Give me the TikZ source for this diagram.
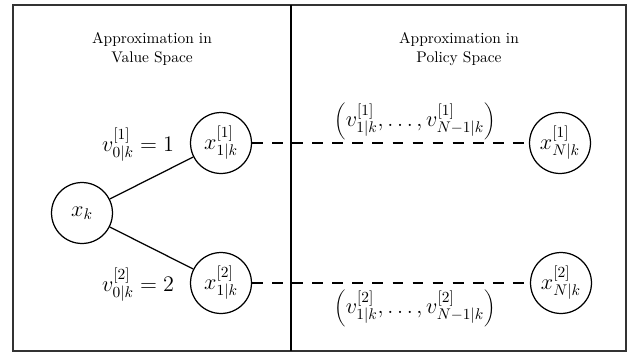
\documentclass[tikz,border=0pt]{standalone}
\begin{document}
\begin{tikzpicture}[x=0.648pt,y=-0.648pt,
  state/.style={circle,draw,thick,minimum size=39.5pt,inner sep=0pt,font=\fontsize{13.7}{16}\selectfont},
  mathlbl/.style={font=\fontsize{13.7}{16}\selectfont},
  title/.style={align=center},
  rollout/.style={thick,dash pattern=on 7pt off 6pt}]
  \useasboundingbox (0,0) rectangle (630,353);
  % Frame and divider
  \draw[line width=1pt,black!80] (13,5) rectangle (626,351);
  \draw[line width=1pt] (291,5) -- (291,351);
  % Approximation in value space
  \node[title] (vtitle) at (152,49) {Approximation in\\Value Space};
  \node[state] (xk) at (82,213) {$x_k$};
  \node[state] (x11) at (221,143) {$x^{[1]}_{1|k}$};
  \node[state] (x21) at (221,283) {$x^{[2]}_{1|k}$};
  \node[mathlbl] (v1) at (138,145) {$v^{[1]}_{0|k} = 1$};
  \node[mathlbl] (v2) at (138,285) {$v^{[2]}_{0|k} = 2$};
  \draw[thick] (xk) -- (x11);
  \draw[thick] (xk) -- (x21);
  % Approximation in policy space
  \node[title] (ptitle) at (459,49) {Approximation in\\Policy Space};
  \node[state] (xN1) at (560,143) {$x^{[1]}_{N|k}$};
  \node[state] (xN2) at (561,283) {$x^{[2]}_{N|k}$};
  \node[mathlbl] (seq1) at (415,121) {$\left(v^{[1]}_{1|k},\dots,v^{[1]}_{N-1|k}\right)$};
  \node[mathlbl] (seq2) at (415,308) {$\left(v^{[2]}_{1|k},\dots,v^{[2]}_{N-1|k}\right)$};
  \draw[rollout] (x11) -- (xN1);
  \draw[rollout] (x21) -- (xN2);
\end{tikzpicture}
\end{document}
